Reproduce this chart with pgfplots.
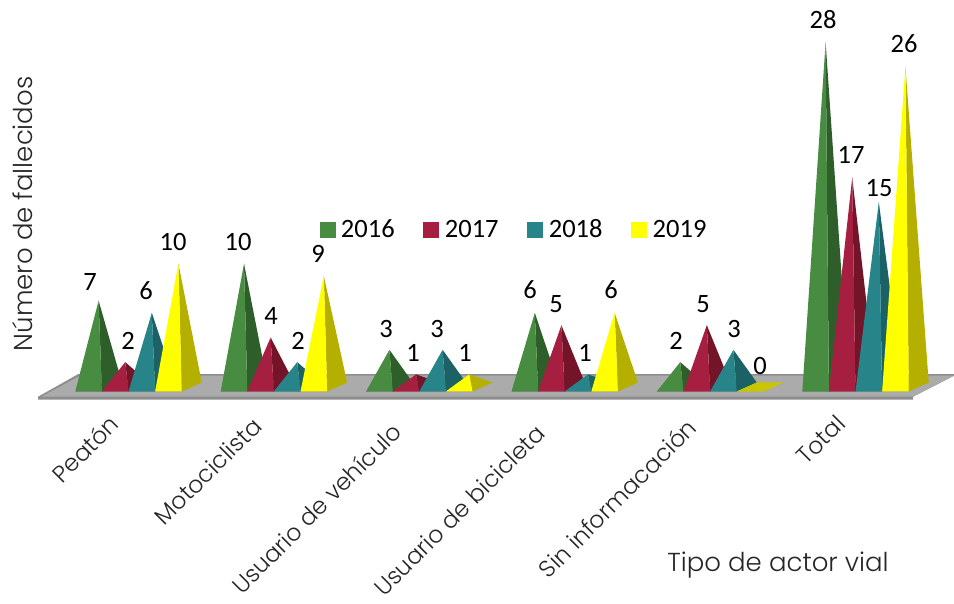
\documentclass[border=0pt]{standalone}
\usepackage{pgfplots}
\usepackage{fontspec}
\pgfplotsset{compat=1.18}
\setmainfont{Carlito}
\newfontfamily\gothic[UprightFont={* Light}]{Poppins}
\definecolor{gA}{HTML}{478C40}\definecolor{gB}{HTML}{2E5F2B}
\definecolor{rA}{HTML}{A61F40}\definecolor{rB}{HTML}{731429}
\definecolor{tA}{HTML}{278488}\definecolor{tB}{HTML}{1B6166}
\definecolor{yA}{HTML}{FFFF00}\definecolor{yB}{HTML}{B5B000}\definecolor{yC}{HTML}{C9C600}
\definecolor{floorc}{HTML}{ABABAB}\definecolor{floord}{HTML}{8E8E8E}
\definecolor{txt}{HTML}{262626}
% group, series(0-3), value, front colour, side colour, label px x, label px y
\newcommand{\pyr}[7]{%
  \pgfmathsetmacro\fl{#1+(#2-2)*0.18294}%
  \pgfmathsetmacro\fr{\fl+0.18294}%
  \pgfmathsetmacro\bl{\fl+0.1376}%
  \pgfmathsetmacro\br{\fr+0.1376}%
  \pgfmathsetmacro\ax{\fl+0.09147+0.0688}%
  \pgfmathsetmacro\lx{(#6-128.5)/145.4}%
  \pgfmathsetmacro\ly{(386-#7)/12.29}%
  \addplot[fill=#5,draw=none,forget plot] coordinates {(\fl,-0.38) (\fr,-0.38) (\br,0.35) (\bl,0.35)} -- cycle;
  \addplot[fill=#5,draw=none,forget plot] coordinates {(\fr,-0.38) (\br,0.35) (\ax,#3)} -- cycle;
  \addplot[fill=#4,draw=none,forget plot] coordinates {(\fl,-0.38) (\fr,-0.38) (\ax,#3)} -- cycle;
  \edef\tmp{\noexpand\node[font=\noexpand\fontsize{26.5}{26.5}\noexpand\selectfont,inner sep=0pt] at (axis cs:\lx,\ly) {#3};}\tmp
}
\begin{document}
\begin{tikzpicture}
\begin{axis}[
  width=954pt,height=603pt,scale only axis,
  xmin=-0.8838,xmax=5.6774,ymin=-17.58,ymax=31.41,
  axis line style={draw=none},
  major tick length=0pt,
  ytick=\empty,
  xtick={0,1,2,3,4,5},
  xticklabels={Peatón,Motociclista\kern3pt,Usuario de vehículo\kern11pt,Usuario de bicicleta\kern13pt,Sin informacación\kern5pt,Total},
  x tick label style={font=\gothic\fontsize{23.5}{23.5}\selectfont,text=txt,yshift=190pt,xshift=-21pt,rotate=45,anchor=north east,inner sep=0pt},
  xlabel={Tipo de actor vial},
  xlabel style={font=\gothic\fontsize{26}{26}\selectfont,text=txt,at={(axis description cs:0.8155,0.0625)},anchor=center,inner sep=0pt},
  ylabel={Número de fallecidos},
  ylabel style={font=\gothic\fontsize{26}{26}\selectfont,text=txt,at={(axis description cs:0.024,0.6455)},anchor=center,rotate=0,inner sep=0pt},
  legend columns=4,
  legend style={draw=none,fill=none,at={(0.5388,0.6200)},anchor=center,font=\fontsize{26.5}{26.5}\selectfont,inner sep=0pt,outer sep=0pt,
    /tikz/every even column/.append style={column sep=26.8pt}},
  legend image code/.code={\fill[#1] (0pt,-7.5pt) rectangle (15pt,7.5pt);\path (19pt,0pt);},
  legend entries={2016,2017,2018,2019},
]
\addlegendimage{gA}\addlegendimage{rA}\addlegendimage{tA}\addlegendimage{yA}
% floor
\addplot[fill=floord,draw=none,forget plot] coordinates {(-0.6224,-1.058) (5.3956,-1.058) (5.3956,-0.814) (5.6774,0.895) (5.6774,1.017) (-0.3473,1.017) (-0.6224,-0.814)} -- cycle;
\addplot[fill=floorc,draw=none,forget plot] coordinates {(-0.6000,-0.814) (5.3956,-0.814) (5.6774,0.9) (-0.3300,0.9)} -- cycle;
% Peatón
\pyr{0}{0}{7}{gA}{gB}{90}{281}
\pyr{0}{1}{2}{rA}{rB}{128}{340}
\pyr{0}{2}{6}{tA}{tB}{146}{290}
\pyr{0}{3}{10}{yA}{yB}{173}{241}
% Motociclista
\pyr{1}{0}{10}{gA}{gB}{238}{241}
\pyr{1}{1}{4}{rA}{rB}{271}{315}
\pyr{1}{2}{2}{tA}{tB}{298}{340}
\pyr{1}{3}{9}{yA}{yB}{318}{253}
% Usuario de vehículo
\pyr{2}{0}{3}{gA}{gB}{386}{328}
\pyr{2}{1}{1}{rA}{rB}{413}{352}
\pyr{2}{2}{3}{tA}{tB}{437}{328}
\pyr{2}{3}{1}{yA}{yB}{465}{352}
% Usuario de bicicleta
\pyr{3}{0}{6}{gA}{gB}{530}{289}
\pyr{3}{1}{5}{rA}{rB}{556}{303}
\pyr{3}{2}{1}{tA}{tB}{585}{352}
\pyr{3}{3}{6}{yA}{yB}{611}{289}
% Sin informacación
\pyr{4}{0}{2}{gA}{gB}{676}{340}
\pyr{4}{1}{5}{rA}{rB}{703}{303}
\pyr{4}{2}{3}{tA}{tB}{734}{328}
\pyr{4}{3}{0}{yC}{yC}{760}{365}
% Total
\pyr{5}{0}{28}{gA}{gB}{823}{19}
\pyr{5}{1}{17}{rA}{rB}{851}{155}
\pyr{5}{2}{15}{tA}{tB}{879}{188}
\pyr{5}{3}{26}{yA}{yB}{904}{43}
\end{axis}
\end{tikzpicture}
\end{document}
